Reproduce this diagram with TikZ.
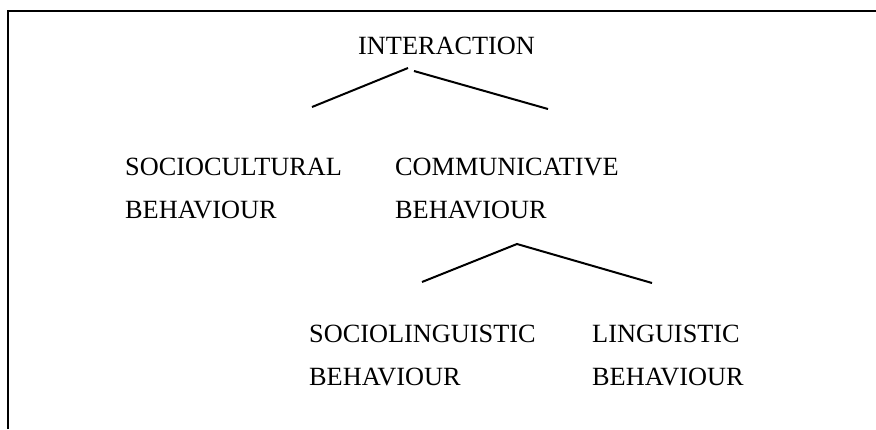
\documentclass[tikz,border=0pt]{standalone}
\usepackage{fontspec}
\setmainfont{Liberation Serif}
\usepackage{tikz}

\begin{document}
\begin{tikzpicture}[
    x=1pt, y=-1pt,
    node_txt/.style={anchor=base west, inner sep=0pt, align=left,
      font=\fontsize{26.3}{43}\selectfont},
    edge_ln/.style={line width=2pt}
  ]
    \useasboundingbox (0,0) rectangle (876,429);
    % frame
    \draw[line width=2pt] (8,429) -- (8,11) -- (876,11);

    % base anchor sits on the last line of a node
    \node[node_txt] (interaction) at (358,54) {INTERACTION};
    \node[node_txt] (sociocultural) at (125,218) {SOCIOCULTURAL\\BEHAVIOUR};
    \node[node_txt] (communicative) at (395,218) {COMMUNICATIVE\\BEHAVIOUR};
    \node[node_txt] (sociolinguistic) at (309,385) {SOCIOLINGUISTIC\\BEHAVIOUR};
    \node[node_txt] (linguistic) at (592,385) {LINGUISTIC\\BEHAVIOUR};

    % branch ends
    \coordinate (apex_l) at (408,68);
    \coordinate (apex_r) at (414,71);
    \coordinate (end_sc) at (312,107);
    \coordinate (end_cb) at (548,109);
    \coordinate (apex_cb) at (517,244);
    \coordinate (end_sl) at (422,282);
    \coordinate (end_li) at (652,283);

    \draw[edge_ln] (end_sc) -- (apex_l);
    \draw[edge_ln] (apex_r) -- (end_cb);
    \draw[edge_ln] (end_sl) -- (apex_cb) -- (end_li);
  \end{tikzpicture}
\end{document}
